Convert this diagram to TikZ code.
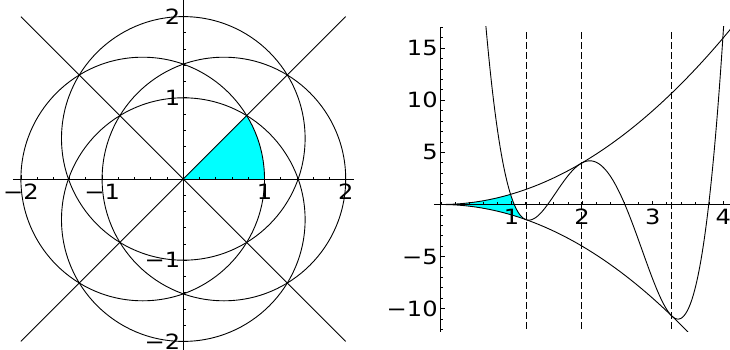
\documentclass[tikz,border=0pt]{standalone}
\usepackage{fontspec}
\setmainfont{DejaVu Sans}[FakeStretch=1.15]
\definecolor{fillc}{RGB}{0,255,255}
\begin{document}
\begin{tikzpicture}[x=1pt,y=1pt,
  curve/.style={line width=0.9pt},
  axisline/.style={line width=0.9pt},
  tickmark/.style={line width=0.8pt},
  lbl/.style={inner sep=0pt, font=\fontsize{21pt}{21pt}\selectfont},
  region/.style={fill=fillc, draw=none},
  guide/.style={line width=0.9pt, dash pattern=on 6.7pt off 3.3pt},
  ]
\path[use as bounding box] (0,0) rectangle (730,349);
\clip (0,0) rectangle (730,349);

% ---------------- left plot ----------------
\begin{scope}[shift={(183.3,170)}, x=81.2pt, y=81.2pt]
  \fill[region] (0,0) -- (1,0) arc[start angle=0, end angle=31.37, radius=1.5] -- cycle;
  \draw[curve] (-0.5,0) circle[radius=1.5];
  \draw[curve] (0.5,0) circle[radius=1.5];
  \draw[curve] (0,0.5) circle[radius=1.5];
  \draw[curve] (0,-0.5) circle[radius=1.5];
  \draw[curve] (-2,-2) -- (2,2);
  \draw[curve] (-2,2) -- (2,-2);
  \draw[axisline] (-2.1,0) -- (2.1,0);
  \draw[axisline] (0,-2.15) -- (0,2.2);
  \foreach \i in {-10,...,10} {
    \draw[tickmark] (\i/5,0) -- ++(0,2.2pt);
    \draw[tickmark] (0,\i/5) -- ++(2.2pt,0);
  }
  \foreach \i in {-2,-1,1,2} {
    \draw[tickmark] (\i,0) -- ++(0,4pt);
    \draw[tickmark] (0,\i) -- ++(4pt,0);
  }
  \foreach \v/\t/\n in {-2/−2/a,-1/−1/b,1/1/c,2/2/d} {
    \node[lbl, anchor=north, yshift=-4.5pt] (lx\n) at (\v,0) {\t};
    \node[lbl, anchor=east, xshift=-2.8pt] (ly\n) at (0,\v) {\t};
  }
\end{scope}

% ---------------- right plot ----------------
\begin{scope}[shift={(440.9,144.5)}, x=70.6pt, y=10.42pt]
  \begin{scope}
    \clip (-0.1,-12.2) rectangle (4.2,17.06);
    \fill[region] plot[domain=0:0.9867, samples=40] (\x,{\x*\x})
      -- plot[domain=0.9867:1.205, samples=30] (\x,{7.844*(\x-1.205)*(\x-1.205)*(\x-3.27)*(\x-3.27)-\x*\x})
      -- plot[domain=1.205:0, samples=40] (\x,{-\x*\x}) -- cycle;
    \draw[curve] plot[domain=0:4.15, samples=120] (\x,{\x*\x});
    \draw[curve] plot[domain=0:3.5, samples=120] (\x,{-\x*\x});
    \draw[curve] plot[domain=0.6:4.02, samples=400] (\x,{7.844*(\x-1.205)*(\x-1.205)*(\x-3.27)*(\x-3.27)-\x*\x});
  \end{scope}
  \foreach \g in {1.205,1.985,3.27} {
    \draw[guide] (\g,16.53) -- (\g,-12.2);
  }
  \draw[axisline] (-0.1,0) -- (4.2,0);
  \draw[axisline] (0,-12.2) -- (0,17.06);
  \foreach \i in {0,...,20} {
    \draw[tickmark] (\i/5,0) -- ++(0,2.2pt);
  }
  \foreach \i in {-12,...,17} {
    \draw[tickmark] (0,\i) -- ++(2.2pt,0);
  }
  \foreach \i in {1,2,3,4} {
    \draw[tickmark] (\i,0) -- ++(0,4pt);
  }
  \foreach \i in {-10,-5,5,10,15} {
    \draw[tickmark] (0,\i) -- ++(4pt,0);
  }
  \foreach \v/\n in {1/a,2/b,3/c,4/d} {
    \node[lbl, anchor=north, yshift=-4.5pt] (rx\n) at (\v,0) {\v};
  }
  \foreach \v/\t/\n in {-10/−10/a,-5/−5/b,5/5/c,10/10/d,15/15/e} {
    \node[lbl, anchor=east, xshift=-3pt] (ry\n) at (0,\v) {\t};
  }
\end{scope}
\end{tikzpicture}
\end{document}
